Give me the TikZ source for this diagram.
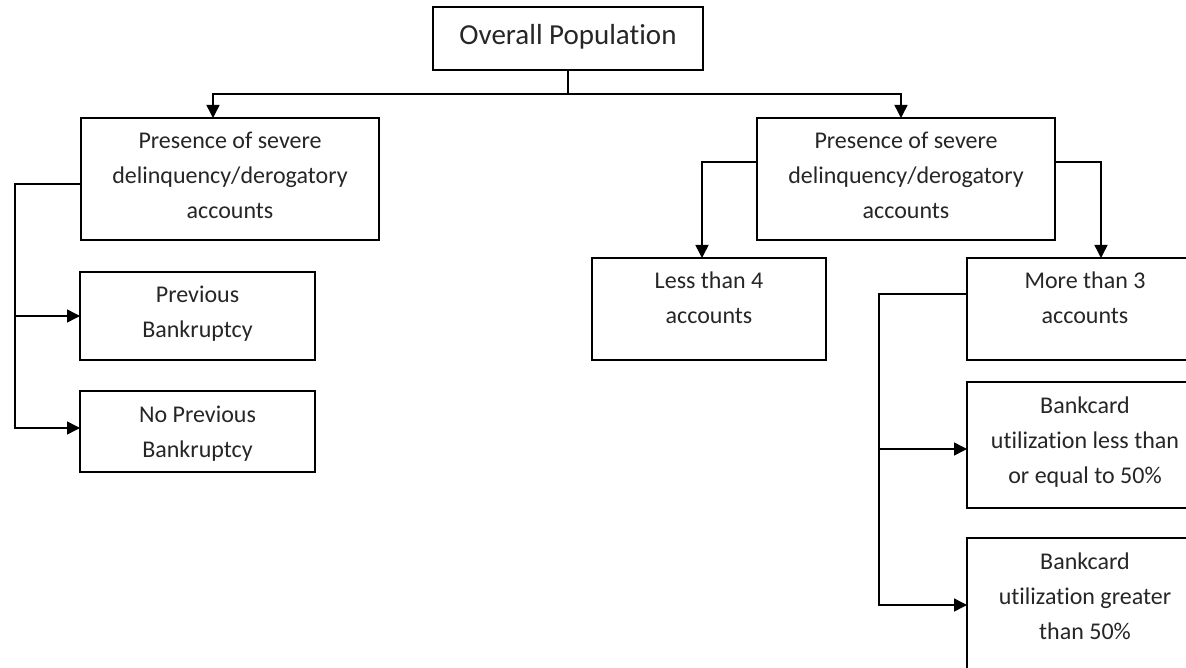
\documentclass[tikz,border=0pt]{standalone}
\usepackage{fontspec}
\setmainfont{Carlito}[Ligatures=NoCommon]
\usetikzlibrary{arrows.meta}
\usetikzlibrary{positioning}
\tikzstyle{catbox}=[draw=black,rectangle,inner sep=0pt,outer sep=0pt,line width=1.5pt,anchor=north west,text=black!85,font=\fontsize{24}{35}\selectfont]
\tikzstyle{rootbox}=[catbox,font=\fontsize{29}{35}\selectfont]
\tikzstyle{line}=[line width=1.5pt,draw=black]
\tikzstyle{arr}=[line,-{Triangle[length=13pt,width=13pt]}]
% fixed size box, text on top
\newcommand{\cellbox}[4][31pt]{\parbox[c][#3][t]{#2}{\centering\rule{0pt}{#1}#4\par}}

\begin{document}
\begin{tikzpicture}[x=1pt,y=-1pt]

\useasboundingbox (0,0) rectangle (1186,668);
\fill[white] (0,0) rectangle (1186,668);
\clip (0,0) rectangle (1186,668);

  \node[rootbox] (pop) at (433,7) {\cellbox[38pt]{270pt}{63pt}{Overall Population}};

  \node[catbox] (sevL) at (81,118) {\cellbox{298pt}{122pt}{Presence of severe\\delinquency/derogatory\\accounts}};
  \node[catbox] (bkr) at (80,272) {\cellbox{235pt}{88pt}{Previous\\Bankruptcy}};
  \node[catbox] (nobkr) at (80,391) {\cellbox{235pt}{81pt}{No Previous\\Bankruptcy}};

  \node[catbox] (sevR) at (757,118) {\cellbox{298pt}{122pt}{Presence of severe\\delinquency/derogatory\\accounts}};
  \node[catbox] (less4) at (592,258) {\cellbox{234pt}{102pt}{Less than 4\\accounts}};
  \node[catbox] (more3) at (967,258) {\cellbox{236pt}{102pt}{More than 3\\accounts}};
  \node[catbox] (util1) at (967,382) {\cellbox{236pt}{126pt}{Bankcard\\utilization less than\\or equal to 50\%}};
  \node[catbox] (util2) at (967,538) {\cellbox{236pt}{134pt}{Bankcard\\utilization greater\\than 50\%}};

% top split
  \coordinate (split) at ([yshift=-24pt]pop.south);
  \draw[line] (pop.south) -- (split);
  \draw[arr] (split) -| ([xshift=-17pt]sevL.north);
  \draw[arr] (split) -| ([xshift=-5pt]sevR.north);

% left branch
  \coordinate (lbus) at (15,184);
  \draw[arr] ([yshift=-5pt]sevL.west) -- (lbus) |- ([yshift=3.5pt]nobkr.west);
  \draw[arr] (lbus |- bkr.west) -- (bkr.west);

% right branch
  \draw[arr] ([yshift=17pt]sevR.west) -| ([xshift=-7pt]less4.north);
  \draw[arr] ([yshift=17pt]sevR.east) -| ([xshift=16pt]more3.north);
  \coordinate (rbus) at (879,294);
  \draw[arr] ([yshift=15pt]more3.west) -- (rbus) |- (util2.west);
  \draw[arr] (rbus |- util1.west) ++(0,4) -- ([yshift=-4pt]util1.west);

\end{tikzpicture}
\end{document}
